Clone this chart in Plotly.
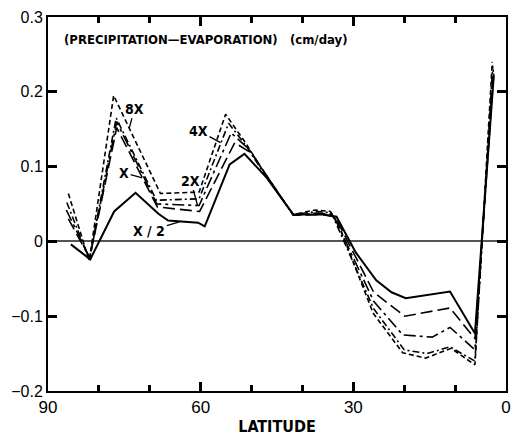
import plotly.graph_objects as go

# Zonal-mean (precipitation - evaporation), cm/day, by latitude, for five experiments
lat_half = [85.5, 81.7, 77.0, 72.8, 68.3, 66.4, 60.5, 59.2, 54.3, 51.4, 47.0, 41.8, 36.0, 33.3, 29.5, 25.5, 22.5, 19.7, 11.0, 6.1, 2.4]
pe_half = [-0.004, -0.024, 0.040, 0.065, 0.037, 0.028, 0.025, 0.020, 0.103, 0.117, 0.085, 0.036, 0.036, 0.033, -0.015, -0.052, -0.068, -0.076, -0.067, -0.123, 0.222]

lat_1x = [86.0, 81.8, 76.5, 68.5, 60.2, 53.3, 50.0, 46.5, 41.8, 36.0, 33.6, 26.0, 19.9, 11.0, 6.1, 2.4]
pe_1x = [0.030, -0.022, 0.152, 0.046, 0.040, 0.132, 0.118, 0.082, 0.035, 0.036, 0.033, -0.068, -0.100, -0.089, -0.130, 0.226]

lat_2x = [86.4, 81.8, 76.5, 68.6, 60.3, 54.0, 50.5, 46.5, 41.8, 37.0, 34.0, 26.0, 20.3, 14.5, 11.0, 6.1, 2.5]
pe_2x = [0.042, -0.022, 0.160, 0.050, 0.048, 0.145, 0.123, 0.082, 0.035, 0.038, 0.036, -0.080, -0.125, -0.128, -0.115, -0.145, 0.230]

lat_4x = [86.3, 81.9, 76.6, 68.7, 60.3, 54.5, 51.0, 46.8, 41.8, 37.0, 34.3, 26.0, 20.0, 15.5, 11.0, 6.1, 2.6]
pe_4x = [0.052, -0.024, 0.165, 0.055, 0.057, 0.158, 0.127, 0.083, 0.036, 0.040, 0.038, -0.090, -0.145, -0.150, -0.141, -0.160, 0.235]

lat_8x = [86.0, 81.9, 77.1, 67.9, 60.3, 55.1, 51.0, 47.0, 41.8, 37.5, 34.5, 32.7, 26.1, 20.3, 15.8, 10.8, 6.1, 2.7]
pe_8x = [0.064, -0.026, 0.195, 0.064, 0.066, 0.170, 0.130, 0.086, 0.036, 0.042, 0.040, 0.019, -0.096, -0.149, -0.156, -0.143, -0.165, 0.240]

series_names = ["X/2", "X", "2X", "4X", "8X"]
series_lat = [lat_half, lat_1x, lat_2x, lat_4x, lat_8x]
series_pe = [pe_half, pe_1x, pe_2x, pe_4x, pe_8x]
series_dash = ["solid", "12px,5px", "12px,4px,3px,4px", "7px,3px,2px,3px", "5px,3px"]
series_width = [2.0, 1.6, 1.6, 1.6, 1.6]

# Curve labels: (text, latitude of pointer tip, value at tip, text offset x, text offset y)
label_text = ["8X", "X", "X / 2", "2X", "4X"]
label_lat = [74.0, 71.5, 64.2, 60.6, 56.1]
label_val = [0.152, 0.085, 0.026, 0.048, 0.132]
label_dx = [5, -18, -30, -7, -22]
label_dy = [-19, -5, 9, -25, -12]

LABEL_FONT = "DejaVu Sans Condensed, Liberation Sans Narrow, Arial Narrow, sans-serif"
TICK_FONT = dict(family="Liberation Sans, Arial, sans-serif", size=16, color="black")

fig = go.Figure()
for name, lat, pe, dash, w in zip(series_names, series_lat, series_pe, series_dash, series_width):
    fig.add_trace(go.Scatter(
        x=lat, y=pe, mode="lines", name=name,
        line=dict(color="black", width=w, dash=dash),
        showlegend=False,
    ))

for txt, lx, ly, dx, dy in zip(label_text, label_lat, label_val, label_dx, label_dy):
    fig.add_annotation(
        x=lx, y=ly, xref="x", yref="y", text=f"<b>{txt}</b>",
        showarrow=True, ax=dx, ay=dy, arrowhead=0, arrowwidth=1.3,
        arrowcolor="black", standoff=0,
        font=dict(family=LABEL_FONT, size=14, color="black"),
    )

fig.add_annotation(
    x=0.03, y=0.941, xref="paper", yref="paper", xanchor="left", yanchor="middle",
    text="<b>(PRECIPITATION\u2014EVAPORATION)   (cm/day)</b>", showarrow=False,
    font=dict(family=LABEL_FONT, size=13, color="black"),
)

fig.update_layout(
    width=514, height=436,
    margin=dict(l=48, r=3, t=17, b=44),
    paper_bgcolor="white", plot_bgcolor="white",
)
# Inward ticks mirrored on all sides: long at 30-degree steps, short every 10 degrees
fig.update_xaxes(
    range=[90, 0], tickmode="linear", tick0=0, dtick=30,
    ticks="inside", ticklen=9, tickwidth=2.5, tickcolor="black",
    showline=True, linewidth=2, linecolor="black", mirror="ticks",
    showgrid=False, zeroline=False,
    minor=dict(dtick=10, ticks="inside", ticklen=6, tickwidth=2.5,
               tickcolor="black", showgrid=False),
    tickfont=dict(TICK_FONT, size=17),
    title=dict(text="<b>LATITUDE</b>", standoff=4,
               font=dict(family=LABEL_FONT, size=16, color="black")),
)
fig.update_yaxes(
    range=[-0.2, 0.3], tickmode="linear", tick0=0, dtick=0.1,
    ticks="inside", ticklen=9, tickwidth=2.5, tickcolor="black",
    showline=True, linewidth=2, linecolor="black", mirror="ticks",
    showgrid=False, zeroline=True, zerolinecolor="#555", zerolinewidth=1.5,
    tickfont=TICK_FONT,
)

fig.write_html("out.html")
